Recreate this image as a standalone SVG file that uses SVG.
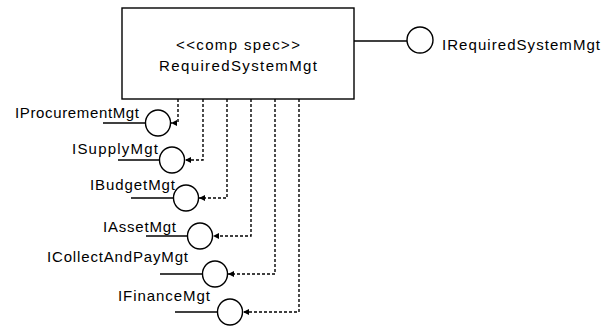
<svg xmlns="http://www.w3.org/2000/svg" width="610" height="327" viewBox="0 0 610 327">
<defs>
<style>
text{font-family:"Liberation Sans",Arial,sans-serif;font-size:15px;fill:#000}
.box{fill:#fff;stroke:#000;stroke-width:1.4}
.if{fill:#fff;stroke:#000;stroke-width:1.4}
.sol{stroke:#000;stroke-width:1.3;fill:none}
.dash{stroke:#000;stroke-width:1.4;fill:none;stroke-dasharray:3,2;marker-end:url(#arr)}
</style>
<marker id="arr" viewBox="0 0 10 10" refX="10" refY="5" markerWidth="6" markerHeight="6" markerUnits="userSpaceOnUse" orient="auto">
<path d="M0,0 L10,5 L0,10 z" fill="#000"/>
</marker>
</defs>
<rect width="610" height="327" fill="#fff"/>
<g id="comp">
<rect class="box" x="122" y="8" width="232" height="91"/>
<text x="238" y="50" text-anchor="middle" textLength="124" lengthAdjust="spacing">&lt;&lt;comp spec&gt;&gt;</text>
<text x="238" y="71" text-anchor="middle" textLength="158" lengthAdjust="spacing">RequiredSystemMgt</text>
</g>
<g id="IRequiredSystemMgt">
<line class="sol" x1="354" y1="41" x2="407" y2="41"/>
<ellipse class="if" cx="420" cy="40" rx="13" ry="13"/>
<text x="442" y="50" textLength="158" lengthAdjust="spacing">IRequiredSystemMgt</text>
</g>
<g id="IProcurementMgt">
<line class="sol" x1="103" y1="123" x2="146" y2="123"/>
<ellipse class="if" cx="158" cy="123" rx="12.5" ry="13"/>
<text x="15" y="118" textLength="124" lengthAdjust="spacing">IProcurementMgt</text>
</g>
<g id="ISupplyMgt">
<line class="sol" x1="118" y1="160" x2="160" y2="160"/>
<ellipse class="if" cx="172" cy="160" rx="12.5" ry="13"/>
<text x="72" y="154" textLength="86" lengthAdjust="spacing">ISupplyMgt</text>
</g>
<g id="IBudgetMgt">
<line class="sol" x1="131" y1="198" x2="174" y2="198"/>
<ellipse class="if" cx="186" cy="198" rx="12.5" ry="13"/>
<text x="90" y="190" textLength="85" lengthAdjust="spacing">IBudgetMgt</text>
</g>
<g id="IAssetMgt">
<line class="sol" x1="146" y1="236" x2="188" y2="236"/>
<ellipse class="if" cx="200" cy="236" rx="12.5" ry="13"/>
<text x="103" y="232" textLength="73" lengthAdjust="spacing">IAssetMgt</text>
</g>
<g id="ICollectAndPayMgt">
<line class="sol" x1="160" y1="274" x2="203" y2="274"/>
<ellipse class="if" cx="215" cy="274" rx="12.5" ry="13"/>
<text x="47" y="262" textLength="141" lengthAdjust="spacing">ICollectAndPayMgt</text>
</g>
<g id="IFinanceMgt">
<line class="sol" x1="175" y1="312" x2="218" y2="312"/>
<ellipse class="if" cx="230" cy="312" rx="12.5" ry="13"/>
<text x="118" y="301" textLength="92" lengthAdjust="spacing">IFinanceMgt</text>
</g>
<g id="connectors">
<path class="dash" d="M178,99 V123 H171"/>
<path class="dash" d="M203,99 V160 H185"/>
<path class="dash" d="M227,99 V198 H199"/>
<path class="dash" d="M251,99 V236 H213"/>
<path class="dash" d="M275,99 V274 H228"/>
<path class="dash" d="M299,99 V312 H243"/>
</g>
</svg>
